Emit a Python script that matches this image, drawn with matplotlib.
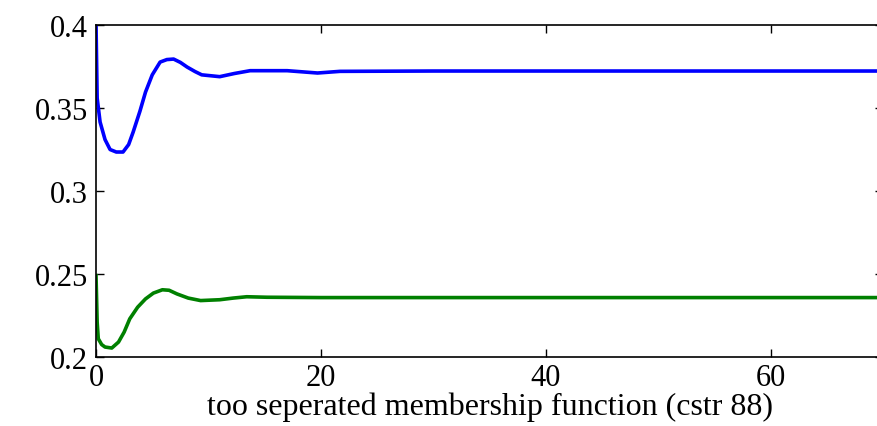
import matplotlib
matplotlib.use('Agg')
import matplotlib.pyplot as plt
from matplotlib.ticker import FormatStrFormatter

# blue response
t_blue = [0, 0.1, 0.36, 0.8, 1.25, 1.8, 2.4, 2.9, 3.3, 3.9, 4.4, 5.0, 5.7, 6.3, 6.9, 7.5, 8.1,
          8.8, 9.4, 11, 12.3, 13.7, 17, 19.7, 21.7, 30, 70]
y_blue = [0.400, 0.356, 0.3416, 0.331, 0.325, 0.3235, 0.3235, 0.328, 0.3355, 0.348, 0.3596,
          0.370, 0.3777, 0.3792, 0.3795, 0.3775, 0.3747, 0.372, 0.3700, 0.3689, 0.3708,
          0.3725, 0.3725, 0.3711, 0.3721, 0.3723, 0.3723]

# green response
t_green = [0, 0.1, 0.2, 0.5, 0.8, 1.4, 2.0, 2.5, 3.0, 3.7, 4.4, 5.1, 5.9, 6.5, 7.2, 8.2, 9.3,
           11, 12.2, 13.4, 15.2, 20, 70]
y_green = [0.249, 0.221, 0.211, 0.2075, 0.206, 0.2054, 0.209, 0.215, 0.223, 0.230, 0.235,
           0.2385, 0.2405, 0.2402, 0.238, 0.2355, 0.234, 0.2345, 0.2355, 0.2363, 0.236,
           0.2358, 0.2358]

x_ticks = [0, 20, 40, 60]
y_ticks = [0.2, 0.25, 0.3, 0.35, 0.4]
x_label = 'too seperated membership function (cstr 88)'

plt.rcParams['font.family'] = ['Liberation Serif', 'DejaVu Serif']

fig = plt.figure(figsize=(8.77, 4.27), dpi=100)
ax = fig.add_axes([0.1095, 0.1616, 0.8975, 0.7774])

ax.plot(t_blue, y_blue, color='#0000ff', lw=2.6, solid_joinstyle='round')
ax.plot(t_green, y_green, color='#008000', lw=2.6, solid_joinstyle='round')

ax.set_xlim(0, 70)
ax.set_ylim(0.2, 0.4)
ax.set_xticks(x_ticks)
ax.set_yticks(y_ticks)
ax.yaxis.set_major_formatter(FormatStrFormatter('%g'))
ax.tick_params(direction='in', top=True, right=True, length=6, width=1, labelsize=22)
ax.tick_params(axis='x', pad=4)
ax.tick_params(axis='y', pad=6)
for s in ax.spines.values():
    s.set_linewidth(1.2)

ax.set_xlabel(x_label, fontsize=23, labelpad=0)

fig.savefig('out.png', dpi=100)
